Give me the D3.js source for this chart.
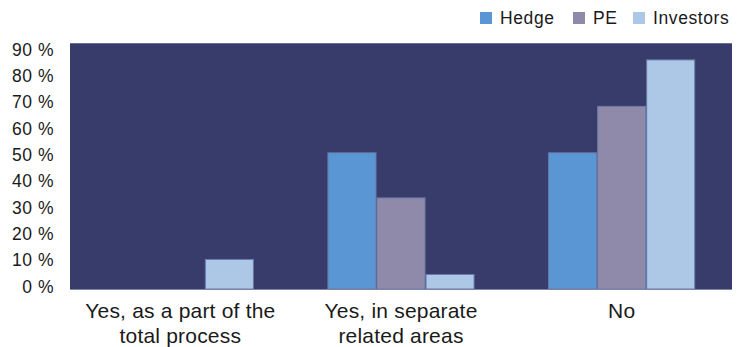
<!DOCTYPE html>
<html>
<head>
<meta charset="utf-8">
<script src="https://cdn.jsdelivr.net/npm/d3@7"></script>
<style>
  html, body { margin: 0; padding: 0; background: #fff; }
  svg { display: block; font-family: "Liberation Sans", Arial, Helvetica, sans-serif; }
</style>
</head>
<body>
<svg id="chart" width="739" height="347"></svg>
<script>
// Survey answers per investor group (percent of respondents)
const categories = [
  ["Yes, as a part of the", "total process"],
  ["Yes, in separate", "related areas"],
  ["No"]
];
const seriesNames = ["Hedge", "PE", "Investors"];
const hedge     = [0, 50, 50];
const pe        = [0, 33.5, 67];
const investors = [11, 5.5, 84];
const yTicks = [0, 10, 20, 30, 40, 50, 60, 70, 80, 90];
const colors = ["#5a96d3", "#8f8aa9", "#adc8e6"];

const seriesValues = [hedge, pe, investors];
const svg = d3.select("#chart");
const plot = { left: 70, right: 732, top: 43, bottom: 289 };

const catIdx = categories.map((_, i) => i);
const x0 = d3.scaleBand().domain(catIdx).range([plot.left, plot.right]).padding(0);
const x1 = d3.scaleBand().domain(seriesNames).range([0, x0.bandwidth()])
  .paddingInner(0).paddingOuter(0.75);
const y = d3.scaleLinear().domain([0, 90]).range([plot.bottom, plot.top]);
// tick labels sit on a slightly tighter spacing than the gridded area
const yLab = d3.scaleLinear().domain([0, 90]).range([286, 49]);

// plot background
svg.append("rect")
  .attr("x", plot.left).attr("y", plot.top)
  .attr("width", plot.right - plot.left).attr("height", plot.bottom - plot.top)
  .attr("fill", "#383c6b");
svg.append("line")
  .attr("x1", plot.left).attr("x2", plot.right)
  .attr("y1", plot.top + 0.5).attr("y2", plot.top + 0.5)
  .attr("stroke", "#6d7097").attr("stroke-width", 1);

// bars
const groups = svg.append("g").selectAll("g")
  .data(catIdx).join("g")
  .attr("transform", i => `translate(${x0(i)},0)`);
groups.selectAll("rect")
  .data(i => seriesNames.map((s, k) => ({ s, k, v: seriesValues[k][i] })).filter(d => d.v > 0))
  .join("rect")
  .attr("x", d => x1(d.s) + 0.5)
  .attr("y", d => y(d.v) + 0.5)
  .attr("width", x1.bandwidth() - 1)
  .attr("height", d => y(0) - y(d.v) - 0.5)
  .attr("fill", d => colors[d.k])
  .attr("stroke", "#6a7bab")
  .attr("stroke-width", 1);

// baseline
svg.append("line")
  .attr("x1", plot.left).attr("x2", plot.right)
  .attr("y1", plot.bottom + 0.5).attr("y2", plot.bottom + 0.5)
  .attr("stroke", "#7f83a6").attr("stroke-width", 1);

// y axis labels
const yAxis = svg.append("g")
  .attr("transform", "translate(54,0)")
  .call(d3.axisLeft(yLab).tickValues(yTicks).tickSize(0).tickPadding(0)
    .tickFormat(d => d + " %"));
yAxis.select(".domain").remove();
yAxis.selectAll("text")
  .attr("fill", "#1a1a1a")
  .style("font-size", "17.5px")
  .style("letter-spacing", "0.5px")
  .attr("dy", "0.35em");

// category labels
const xAxis = svg.append("g");
categories.forEach((lines, i) => {
  const cx = x0(i) + x0.bandwidth() / 2;
  const t = xAxis.append("text")
    .attr("x", cx)
    .attr("y", 318)
    .attr("text-anchor", "middle")
    .attr("fill", "#1a1a1a")
    .style("font-size", "21px")
    .style("letter-spacing", "0.2px");
  lines.forEach((ln, j) => {
    t.append("tspan")
      .attr("x", cx)
      .attr("dy", j === 0 ? 0 : 25)
      .text(ln);
  });
});

// legend
const legendX = [480, 573, 633];
const legend = svg.append("g");
seriesNames.forEach((s, k) => {
  legend.append("rect")
    .attr("x", legendX[k]).attr("y", 12)
    .attr("width", 12).attr("height", 12)
    .attr("fill", colors[k]);
  legend.append("text")
    .attr("x", legendX[k] + 20).attr("y", 24)
    .attr("fill", "#1a1a1a")
    .style("font-size", "17.5px")
    .style("letter-spacing", "0.6px")
    .text(s);
});
</script>
</body>
</html>
